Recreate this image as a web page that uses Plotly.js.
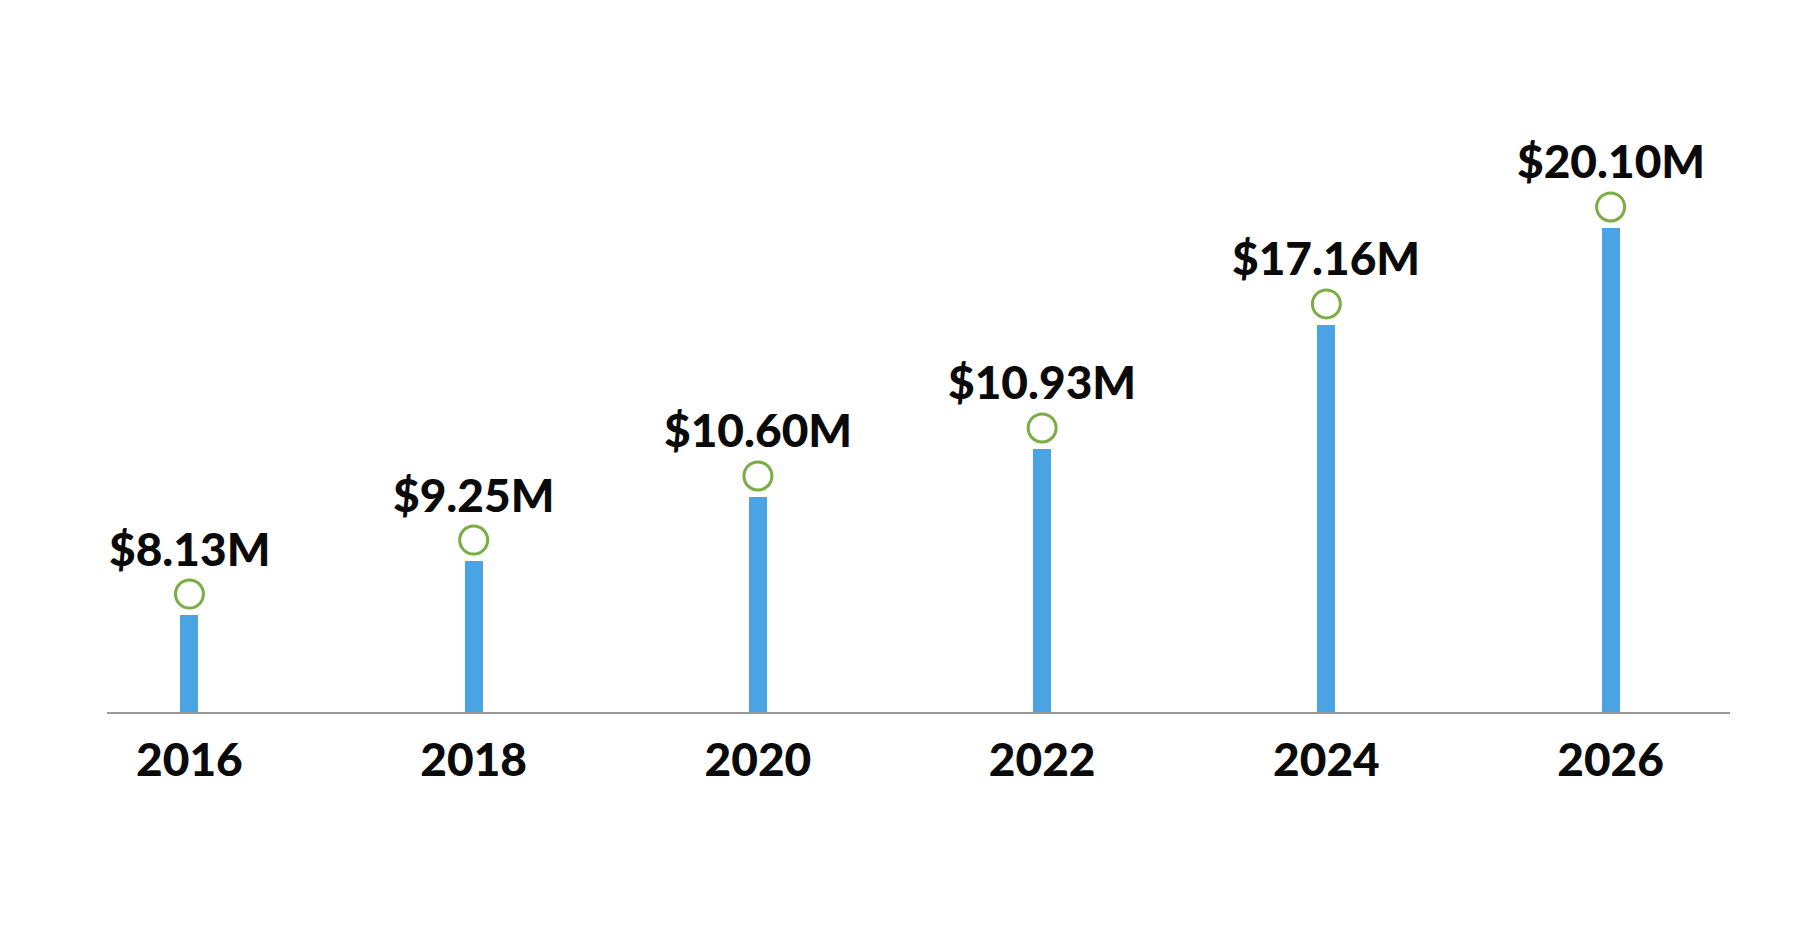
<!DOCTYPE html>
<html>
<head>
<meta charset="utf-8">
<script src="https://cdn.plot.ly/plotly-3.0.1.min.js"></script>
<style>
  html, body { margin: 0; padding: 0; background: #ffffff; }
  #chart { width: 1800px; height: 928px; }
</style>
</head>
<body>
<div id="chart"></div>
<script>
// ------------------------------------------------------------
// Lollipop chart: market value by year
// ------------------------------------------------------------

const years = [2016, 2018, 2020, 2022, 2024, 2026];
const valueLabels = ['$8.13M', '$9.25M', '$10.60M', '$10.93M', '$17.16M', '$20.10M'];
// stem heights as drawn in the picture ($M, the chart is not to scale)
const stemHeights = [4.04, 6.29, 8.96, 10.96, 16.13, 20.17];

const COLORS = {
  stem: '#4aa4e3',
  ring: '#7aad43',
  axis: '#9a9a9a',
  text: '#0a0a0a'
};

const FONT = 'Lato, "Open Sans", Arial, sans-serif';

const Y_MAX = 25;
const PLOT_H = 600;                 // px, see margins below
const PX_PER_UNIT = PLOT_H / Y_MAX;
const RING_GAP = 21 / PX_PER_UNIT;  // ring sits just above the stem

const stems = {
  type: 'bar',
  x: years,
  y: stemHeights,
  width: 0.127,
  marker: { color: COLORS.stem, line: { width: 0 } },
  hoverinfo: 'skip'
};

const rings = {
  type: 'scatter',
  mode: 'markers',
  x: years,
  y: stemHeights.map(h => h + RING_GAP),
  marker: {
    symbol: 'circle-open',
    size: 28,
    color: COLORS.ring,
    line: { width: 3, color: COLORS.ring }
  },
  hoverinfo: 'skip'
};

const labels = years.map((yr, i) => ({
  x: yr,
  y: stemHeights[i],
  xref: 'x', yref: 'y',
  text: valueLabels[i],
  showarrow: false,
  xanchor: 'center',
  yanchor: 'middle',
  yshift: 67,
  font: { family: FONT, size: 46, weight: 900, color: COLORS.text }
}));

const layout = {
  width: 1800,
  height: 928,
  margin: { l: 107, r: 70, t: 112, b: 216 },
  paper_bgcolor: '#ffffff',
  plot_bgcolor: '#ffffff',
  showlegend: false,
  bargap: 0,
  xaxis: {
    range: [2015.42, 2026.84],
    tickvals: years,
    ticktext: years.map(String),
    ticks: '',
    showgrid: false,
    zeroline: false,
    showline: true,
    linecolor: COLORS.axis,
    linewidth: 1.5,
    ticklabelstandoff: 7,
    tickfont: { family: FONT, size: 46, weight: 900, color: COLORS.text },
    fixedrange: true
  },
  yaxis: {
    range: [0, Y_MAX],
    visible: false,
    fixedrange: true
  },
  annotations: labels
};

Plotly.newPlot('chart', [stems, rings], layout, { displayModeBar: false, staticPlot: true });
</script>
</body>
</html>
